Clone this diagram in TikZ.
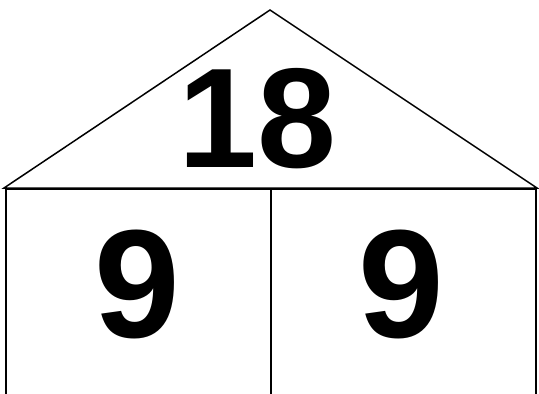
\documentclass[tikz,border=0pt]{standalone}
\usepackage{fontspec}
\setmainfont{Liberation Sans}
\tikzset{
  roofline/.style={draw, line width=1.5pt},
  roomline/.style={draw, line width=2.6pt},
  sumnum/.style={font=\fontsize{142}{142}\selectfont\bfseries, inner sep=0pt, anchor=base},
  partnum/.style={font=\fontsize{154}{154}\selectfont\bfseries, inner sep=0pt, anchor=base}
}
\begin{document}
\begin{tikzpicture}[x=1pt, y=-1pt]
\useasboundingbox (0,0) rectangle (539,394);
% Roof
\coordinate (roofL) at (4,188);
\coordinate (apex) at (270,10);
\coordinate (roofR) at (537,188);
\draw[roofline] (roofL) -- (apex) -- (roofR) -- cycle;
% Rooms
\coordinate (roomTL) at (6,189);
\coordinate (roomBR) at (536,394.8);
\coordinate (midT) at (271,189);
\coordinate (midB) at (271,394.8);
\draw[roomline] (roomTL) rectangle (roomBR);
\draw[roomline] (midT) -- (midB);
% Numbers
\node[sumnum] (total) at (257.5,167) {18};
\node[partnum] (left) at (137,337) {9};
\node[partnum] (right) at (401.5,337) {9};
\end{tikzpicture}
\end{document}
